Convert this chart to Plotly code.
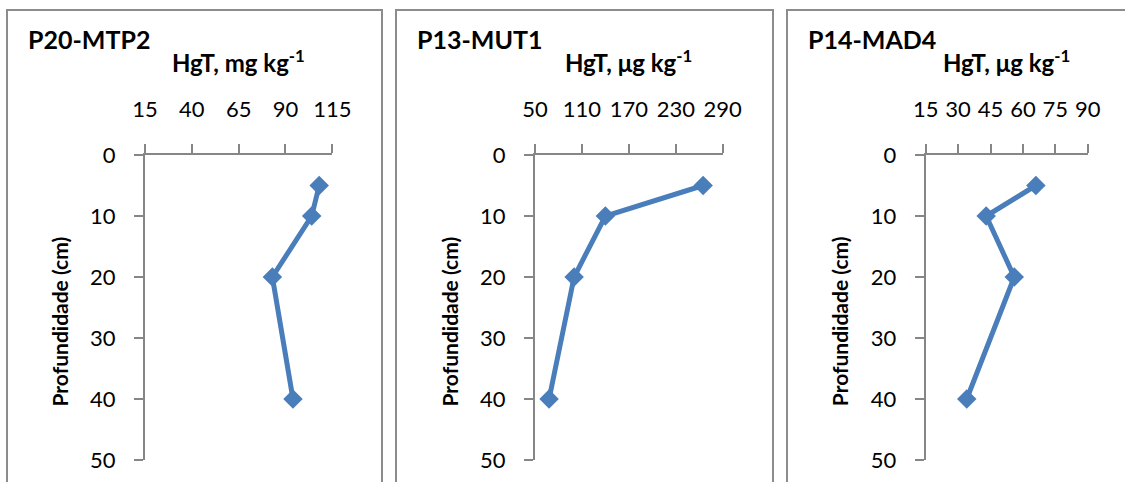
import plotly.graph_objects as go

W, H = 1125, 482

depth = [5, 10, 20, 40]
p20_mtp2 = [108, 104, 83, 94]
p13_mut1 = [265, 140, 100, 68]
p14_mad4 = [66, 43, 56, 34]

panel_titles = ["P20-MTP2", "P13-MUT1", "P14-MAD4"]
x_titles = ["HgT, mg kg<sup>-1</sup>", "HgT, \u03bcg kg<sup>-1</sup>", "HgT, \u03bcg kg<sup>-1</sup>"]
y_title = "Profundidade (cm)"
x_ranges = [[15, 115], [50, 290], [15, 90]]
x_dticks = [25, 60, 15]
y_range = [50, 0]

# pixel layout
plot_x = [(145, 332.3), (535, 722.7), (925.7, 1087.7)]
plot_y = (155, 460)
frames = [(7, 382), (396, 773), (787, 1140)]

def fx(px):
    return px / W

def fy(py):
    return 1 - py / H

FONT = "Lato"
BLUE = "#4A7EBB"
GRAY = "#868686"

fig = go.Figure()
series = [p20_mtp2, p13_mut1, p14_mad4]
annotations = []
shapes = []
layout = {}
for i in range(3):
    n = "" if i == 0 else str(i + 1)
    fig.add_trace(go.Scatter(
        x=series[i], y=depth, mode="lines+markers",
        xaxis="x" + n, yaxis="y" + n,
        line=dict(color=BLUE, width=5),
        marker=dict(symbol="diamond", size=15, color=BLUE),
        showlegend=False, hoverinfo="x+y"))
    x0, x1 = plot_x[i]
    layout["xaxis" + n] = dict(
        domain=[fx(x0), fx(x1)], range=x_ranges[i], dtick=x_dticks[i], tick0=x_ranges[i][0],
        side="top", anchor="y" + n, showgrid=False, zeroline=False, automargin=False,
        showline=True, linecolor=GRAY, linewidth=2,
        ticks="outside", ticklen=9, tickwidth=2, tickcolor=GRAY,
        ticklabelstandoff=18,
        tickfont=dict(family=FONT, size=22, color="black"))
    layout["yaxis" + n] = dict(
        domain=[fy(plot_y[1]), fy(plot_y[0])], range=y_range, dtick=10, tick0=0,
        anchor="x" + n, showgrid=False, zeroline=False, automargin=False,
        showline=True, linecolor=GRAY, linewidth=2,
        ticks="outside", ticklen=9, tickwidth=2, tickcolor=GRAY,
        ticklabelstandoff=14,
        tickfont=dict(family=FONT, size=22, color="black"))
    fl, fr = frames[i]
    shapes.append(dict(type="rect", xref="paper", yref="paper",
                       x0=fx(fl), x1=fx(fr), y0=fy(H + 20), y1=fy(10),
                       line=dict(color="#8C8C8C", width=2), fillcolor="rgba(0,0,0,0)",
                       layer="below"))
    annotations.append(dict(text="<b>" + panel_titles[i] + "</b>", xref="paper", yref="paper",
                            x=fx(fl + 19), y=fy(39), xanchor="left", yanchor="middle",
                            showarrow=False, font=dict(family=FONT, size=25, color="black")))
    annotations.append(dict(text="<b>" + x_titles[i] + "</b>", xref="paper", yref="paper",
                            x=fx((x0 + x1) / 2), y=fy(61), xanchor="center", yanchor="middle",
                            showarrow=False, font=dict(family=FONT, size=24, color="black")))
    annotations.append(dict(text="<b>" + y_title + "</b>", xref="paper", yref="paper",
                            x=fx(x0 - 86), y=fy(sum(plot_y) / 2 + 14), xanchor="center", yanchor="middle",
                            textangle=-90, showarrow=False,
                            font=dict(family=FONT, size=21, color="black")))

fig.update_layout(
    template="none",
    width=W, height=H, margin=dict(l=0, r=0, t=0, b=0, pad=0),
    paper_bgcolor="white", plot_bgcolor="white",
    shapes=shapes, annotations=annotations, **layout)

fig.write_html("out.html")
